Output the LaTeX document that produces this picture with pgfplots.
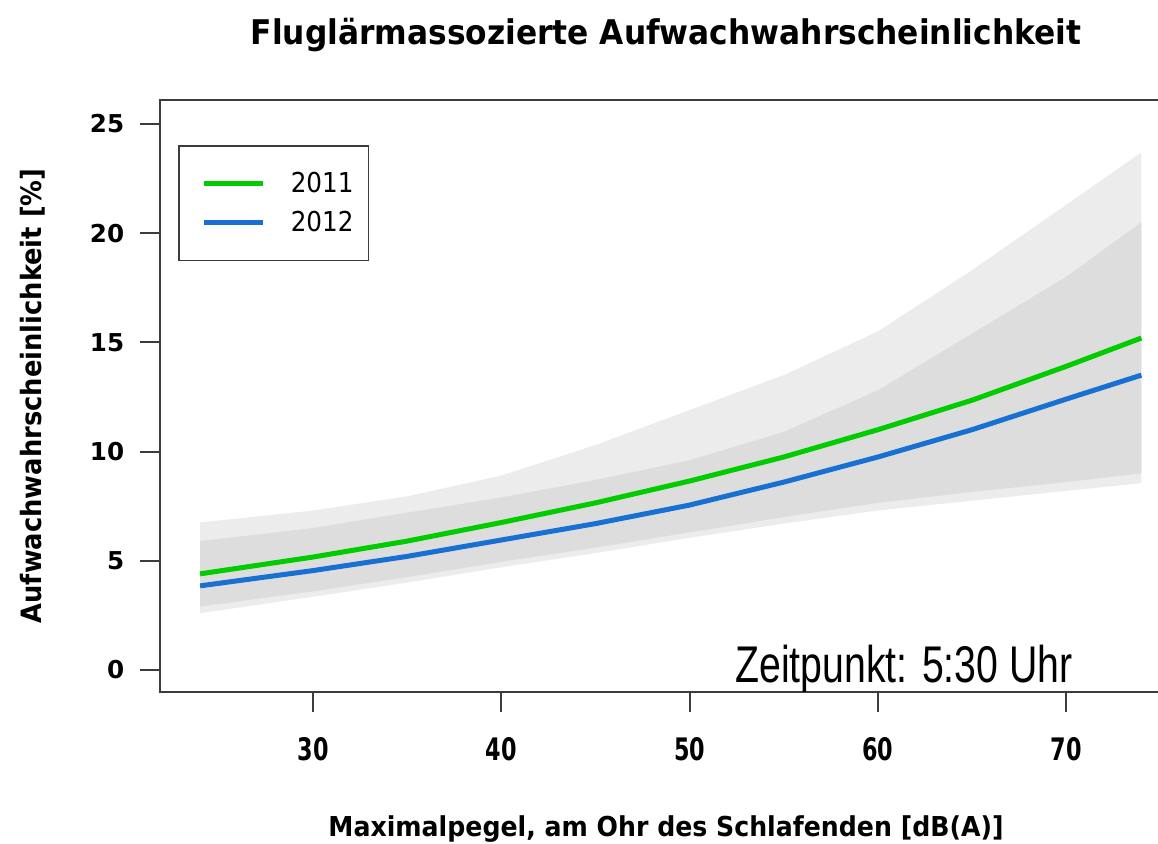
\documentclass[border=0pt]{standalone}
\usepackage{fontspec}
\usepackage{pgfplots}
\usepackage{pgfplotstable}
\pgfplotsset{compat=1.18}
\usepgfplotslibrary{fillbetween}
\newfontfamily\bfont{DejaVu Sans}[FakeStretch=0.92]
\newfontfamily\xfont{DejaVu Sans}[FakeStretch=0.72]
\newfontfamily\yfont{DejaVu Sans}
\newfontfamily\lfont{DejaVu Sans}[FakeStretch=0.9]
\newfontfamily\nfont{Liberation Sans}[FakeStretch=0.76]
\definecolor{g11}{RGB}{0,204,0}
\definecolor{b12}{RGB}{24,112,210}
\definecolor{bandout}{RGB}{236,236,236}
\definecolor{bandin}{RGB}{221,221,221}
\definecolor{axcol}{RGB}{60,60,60}

% confidence band envelopes (outer = union, inner = overlap of both years)
\pgfplotstableread{
x   up    lo
24  6.75  2.60
30  7.30  3.35
35  7.95  4.00
40  8.90  4.70
45  10.30 5.35
50  11.90 6.05
55  13.50 6.70
60  15.50 7.30
65  18.30 7.75
70  21.30 8.20
74  23.70 8.55
}\outerband
\pgfplotstableread{
x   up    lo
24  5.90  2.90
30  6.50  3.60
35  7.20  4.25
40  7.90  4.95
45  8.70  5.60
50  9.60  6.30
55  10.90 7.00
60  12.80 7.65
65  15.40 8.15
70  18.00 8.60
74  20.50 9.00
}\innerband
% fitted wake-up probability
\pgfplotstableread{
x   y11   y12
24  4.40  3.85
30  5.17  4.55
35  5.90  5.20
40  6.75  5.95
45  7.65  6.70
50  8.65  7.55
55  9.75  8.60
60  11.00 9.75
65  12.35 11.00
70  13.90 12.40
74  15.20 13.50
}\fit

\begin{document}
\begin{tikzpicture}
\begin{axis}[
  scale only axis, width=509.5pt, height=296pt,
  xmin=21.87, xmax=76, ymin=-1.01, ymax=26.10,
  axis line style={axcol, line width=1pt},
  tick style={axcol, line width=1pt},
  tick align=outside, major tick length=10pt,
  xtick pos=bottom, ytick pos=left,
  xtick={30,40,50,60,70}, ytick={0,5,10,15,20,25},
  /pgf/number format/assume math mode=true,
  xticklabel style={font=\xfont\bfseries\fontsize{15.5}{17}\selectfont},
  yticklabel style={font=\yfont\bfseries\fontsize{12.3}{14}\selectfont},
  xticklabel shift=9.3pt, yticklabel shift=4.4pt,
  title={Fluglärmassozierte Aufwachwahrscheinlichkeit},
  title style={font=\bfont\bfseries\fontsize{17}{20}\selectfont,
    at={(rel axis cs:0.4966,1)}, anchor=center, yshift=26.5pt},
  xlabel={Maximalpegel, am Ohr des Schlafenden [dB(A)]},
  xlabel style={font=\bfont\bfseries\fontsize{13.7}{16}\selectfont,
    at={(rel axis cs:0.4966,0)}, anchor=center, yshift=-68.5pt},
  ylabel={Aufwachwahrscheinlichkeit [\%]},
  ylabel style={font=\bfont\bfseries\fontsize{14}{16}\selectfont,
    at={(rel axis cs:-0.1246,0.5)}, anchor=center},
  legend style={at={(rel axis cs:0,1)}, anchor=north west,
    xshift=9pt, yshift=-22.5pt, draw=axcol, line width=0.8pt,
    font=\lfont\fontsize{13.7}{15}\selectfont,
    inner xsep=5.5pt, inner ysep=11pt, row sep=4pt,
    cells={anchor=west}},
  legend image code/.code={\path[draw=none] (0pt,0pt) -- (48.5pt,0pt); \draw[#1] (7pt,0pt) -- (36.5pt,0pt);},
]
\addplot[draw=none, name path=ou, forget plot] table[x=x, y=up] {\outerband};
\addplot[draw=none, name path=ol, forget plot] table[x=x, y=lo] {\outerband};
\addplot[bandout, forget plot] fill between[of=ou and ol];
\addplot[draw=none, name path=iu, forget plot] table[x=x, y=up] {\innerband};
\addplot[draw=none, name path=il, forget plot] table[x=x, y=lo] {\innerband};
\addplot[bandin, forget plot] fill between[of=iu and il];

\addplot[g11, line width=2.5pt] table[x=x, y=y11] {\fit};
\addlegendentry{2011}
\addplot[b12, line width=2.5pt] table[x=x, y=y12] {\fit};
\addlegendentry{2012}

\node[anchor=base west, inner sep=0pt, font=\nfont\fontsize{25.8}{28}\selectfont]
  at (rel axis cs:0.5643,0.0152) {Zeitpunkt: 5:30 Uhr};
\end{axis}
\pgfresetboundingbox
\useasboundingbox (-80pt,-76pt) rectangle (499pt,346pt);
\end{tikzpicture}
\end{document}
